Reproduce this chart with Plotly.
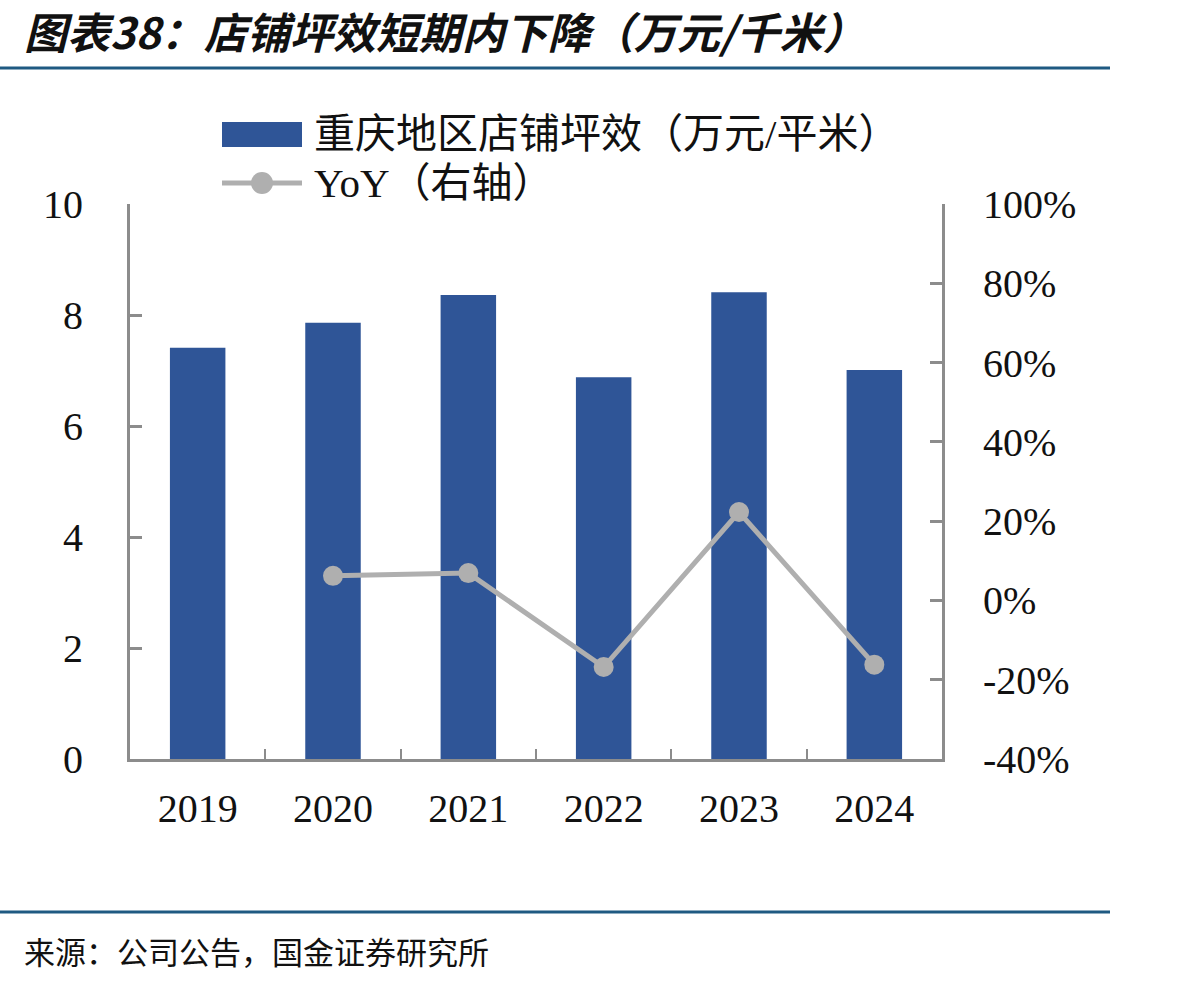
import plotly.graph_objects as go

years = ["2019", "2020", "2021", "2022", "2023", "2024"]
sales_per_sqm = [7.41, 7.86, 8.36, 6.88, 8.41, 7.01]
yoy_years = ["2020", "2021", "2022", "2023", "2024"]
yoy_pct = [6.2, 6.9, -16.8, 22.3, -16.2]
y2_ticks = [-40, -20, 0, 20, 40, 60, 80, 100]
y2_labels = ["-40%", "-20%", "0%", "20%", "40%", "60%", "80%", "100%"]

bar_name = "重庆地区店铺坪效（万元/平米）"
line_name = "YoY（右轴）"
title_text = "图表38：店铺坪效短期内下降（万元/千米）"
source_text = "来源：公司公告，国金证券研究所"

W, H = 1198, 982
L, R, T, B = 130, 942, 204, 759
BAR_COLOR = "#2F5597"
LINE_COLOR = "#AFAFAF"
AXIS_COLOR = "#8C8C8C"
RULE_COLOR = "#1F5A82"
SERIF = "Liberation Serif, Times New Roman, Noto Sans CJK SC, serif"
CJK = "Noto Sans CJK SC, sans-serif"


def px(x):
    return (x - L) / (R - L)


def py(y):
    return (B - y) / (B - T)


fig = go.Figure()
fig.add_trace(go.Bar(x=years, y=sales_per_sqm, marker_color=BAR_COLOR,
                     marker_line_width=0, name=bar_name, showlegend=False))
fig.add_trace(go.Scatter(x=yoy_years, y=yoy_pct, yaxis="y2", mode="lines+markers",
                         line=dict(color=LINE_COLOR, width=5),
                         marker=dict(size=20, color=LINE_COLOR),
                         name=line_name, showlegend=False))

shapes = []
annotations = []

# header / footer rules
for yy in (68, 912):
    shapes.append(dict(type="line", xref="paper", yref="paper",
                       x0=px(0), x1=px(1110), y0=py(yy), y1=py(yy),
                       line=dict(color=RULE_COLOR, width=3)))

# manual legend
shapes.append(dict(type="rect", xref="paper", yref="paper",
                   x0=px(222), x1=px(302), y0=py(147), y1=py(122),
                   fillcolor=BAR_COLOR, line=dict(width=0)))
shapes.append(dict(type="line", xref="paper", yref="paper",
                   x0=px(222), x1=px(302), y0=py(183), y1=py(183),
                   line=dict(color=LINE_COLOR, width=5)))
shapes.append(dict(type="circle", xref="paper", yref="paper",
                   x0=px(251), x1=px(273), y0=py(194), y1=py(172),
                   fillcolor=LINE_COLOR, line=dict(width=0)))

annotations.append(dict(text=bar_name, xref="paper", yref="paper",
                        x=px(312), y=py(134), xanchor="left", yanchor="middle",
                        showarrow=False, font=dict(family=SERIF, size=41, color="#111")))
annotations.append(dict(text=line_name, xref="paper", yref="paper",
                        x=px(312), y=py(183), xanchor="left", yanchor="middle",
                        showarrow=False, font=dict(family=SERIF, size=41, color="#111")))

annotations.append(dict(text=title_text, xref="paper", yref="paper",
                        x=px(22), y=py(30), xanchor="left", yanchor="middle",
                        showarrow=False,
                        font=dict(family=CJK, size=43, color="#111", weight="bold", style="italic")))
annotations.append(dict(text=source_text, xref="paper", yref="paper",
                        x=px(22), y=py(950), xanchor="left", yanchor="middle",
                        showarrow=False, font=dict(family=CJK, size=31, color="#111")))

fig.update_layout(
    width=W, height=H,
    margin=dict(l=L, r=W - R, t=T, b=H - B, pad=0),
    paper_bgcolor="white", plot_bgcolor="white",
    bargap=0.59,
    showlegend=False,
    shapes=shapes,
    annotations=annotations,
    xaxis=dict(type="category", showline=True, linecolor=AXIS_COLOR, linewidth=3,
               ticks="inside", tickson="boundaries", ticklen=10, tickwidth=2,
               tickcolor=AXIS_COLOR, showgrid=False, zeroline=False,
               tickfont=dict(family=SERIF, size=40, color="#111"),
               ticklabelstandoff=12, range=[-0.5, 5.5]),
    yaxis=dict(range=[0, 10], dtick=2, showline=True, linecolor=AXIS_COLOR, linewidth=3,
               ticks="inside", ticklen=12, tickwidth=3, tickcolor=AXIS_COLOR,
               showgrid=False, zeroline=False,
               tickfont=dict(family=SERIF, size=40, color="#111"),
               ticklabelstandoff=36),
    yaxis2=dict(range=[-40, 100], tickmode="array", tickvals=y2_ticks, ticktext=y2_labels,
                overlaying="y", side="right",
                showline=True, linecolor=AXIS_COLOR, linewidth=3,
                ticks="inside", ticklen=12, tickwidth=3, tickcolor=AXIS_COLOR,
                showgrid=False, zeroline=False,
                tickfont=dict(family=SERIF, size=40, color="#111"),
                ticklabelstandoff=30),
)

fig.write_html("out.html")
